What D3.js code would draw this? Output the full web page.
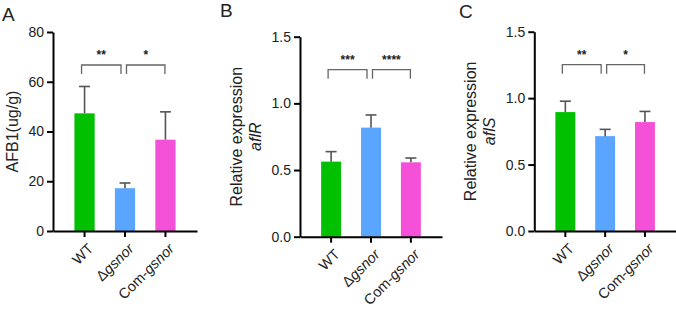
<!DOCTYPE html>
<html>
<head>
<meta charset="utf-8">
<script src="https://cdn.jsdelivr.net/npm/d3@7"></script>
<style>
  body { margin: 0; background: #fff; }
  svg { display: block; font-family: Arial, "Liberation Sans", sans-serif; }
</style>
</head>
<body>
<div id="chart"></div>
<script>
const width = 676;
const height = 309;

// data
const groups = ["WT", "Δgsnor", "Com-gsnor"];
const colors = ["#00c000", "#59a5ff", "#f550d8"];

const afb1Mean = [47.3, 17.2, 36.7];
const afb1Err = [10.8, 2.1, 11.2];
const afb1Ticks = [0, 20, 40, 60, 80];

const aflRMean = [0.563, 0.818, 0.558];
const aflRErr = [0.075, 0.095, 0.032];

const aflSMean = [0.895, 0.714, 0.82];
const aflSErr = [0.082, 0.051, 0.08];

const exprTicks = [0, 0.5, 1.0, 1.5];

const starsA = ["**", "*"];
const starsB = ["***", "****"];
const starsC = ["**", "*"];

const svg = d3.select("#chart")
    .append("svg")
    .attr("width", width)
    .attr("height", height);

const panels = [
    { letter: "A", lx: 2, ly: 21, left: 53, right: 197, bottom: 231, top: 32,
      max: 80, ticks: afb1Ticks, fmt: d3.format("d"),
      mean: afb1Mean, err: afb1Err, stars: starsA,
      label: [{ x: 12, text: "AFB1(ug/g)", italic: false }] },
    { letter: "B", lx: 220, ly: 17, left: 300, right: 442, bottom: 236.7, top: 36.7,
      max: 1.5, ticks: exprTicks, fmt: d3.format(".1f"),
      mean: aflRMean, err: aflRErr, stars: starsB,
      label: [{ x: 236, text: "Relative expression", italic: false },
              { x: 255, text: "aflR", italic: true }] },
    { letter: "C", lx: 459, ly: 18, left: 534.3, right: 676, bottom: 231, top: 31.7,
      max: 1.5, ticks: exprTicks, fmt: d3.format(".1f"),
      mean: aflSMean, err: aflSErr, stars: starsC,
      label: [{ x: 470, text: "Relative expression", italic: false },
              { x: 489, text: "aflS", italic: true }] }
];

panels.forEach(drawPanel);

function drawPanel(p) {
    const g = svg.append("g");

    const x = d3.scaleBand()
        .domain(groups)
        .range([p.left, p.right])
        .paddingInner(0.5)
        .paddingOuter(0.53);

    const y = d3.scaleLinear()
        .domain([0, p.max])
        .range([p.bottom, p.top]);

    const rows = groups.map((name, i) => ({ name, mean: p.mean[i], err: p.err[i], color: colors[i] }));

    // bars
    g.selectAll("rect.bar")
        .data(rows)
        .join("rect")
        .attr("class", "bar")
        .attr("x", d => x(d.name))
        .attr("width", x.bandwidth())
        .attr("y", d => y(d.mean))
        .attr("height", d => y(0) - y(d.mean))
        .attr("fill", d => d.color);

    // error bars (upper only)
    const cx = d => x(d.name) + x.bandwidth() / 2;
    g.selectAll("line.err")
        .data(rows)
        .join("line")
        .attr("x1", cx).attr("x2", cx)
        .attr("y1", d => y(d.mean))
        .attr("y2", d => y(d.mean + d.err))
        .attr("stroke", "#555")
        .attr("stroke-width", 1.6);
    g.selectAll("line.cap")
        .data(rows)
        .join("line")
        .attr("x1", d => cx(d) - 5.5).attr("x2", d => cx(d) + 5.5)
        .attr("y1", d => y(d.mean + d.err))
        .attr("y2", d => y(d.mean + d.err))
        .attr("stroke", "#555")
        .attr("stroke-width", 1.6);

    // axes
    const yAxis = g.append("g")
        .attr("transform", `translate(${p.left},0)`)
        .call(d3.axisLeft(y).tickValues(p.ticks).tickFormat(p.fmt)
            .tickSize(6).tickSizeOuter(0).tickPadding(3));

    const xAxis = g.append("g")
        .attr("transform", `translate(0,${p.bottom})`)
        .call(d3.axisBottom(x).tickSize(6).tickSizeOuter(0));

    [yAxis, xAxis].forEach(a => {
        a.select(".domain").attr("stroke", "#000").attr("stroke-width", 2);
        a.selectAll(".tick line").attr("stroke", "#000").attr("stroke-width", 2);
        a.selectAll("text").attr("fill", "#222").style("font-size", "14px")
            .style("font-family", "Arial, 'Liberation Sans', sans-serif");
    });

    xAxis.selectAll(".tick text")
        .style("font-size", "14.5px")
        .attr("text-anchor", "end")
        .attr("transform", "translate(6,15) rotate(-45)")
        .attr("y", 0).attr("dy", "0.35em")
        .each(function (d) {
            const t = d3.select(this).text("");
            const m = d.match(/^(.*?)(gsnor)$/);
            if (m) {
                t.append("tspan").text(m[1]);
                t.append("tspan").attr("font-style", "italic").text(m[2]);
            } else {
                t.text(d);
            }
        });

    // significance brackets
    const pairs = [[0, 1, -3, -4], [1, 2, 1.5, -0.5]];
    const bTop = p.top + 33, bLeg = 9;
    pairs.forEach(([a, b, da, db], k) => {
        const x1 = cx(rows[a]) + da, x2 = cx(rows[b]) + db;
        g.append("path")
            .attr("d", `M${x1},${bTop + bLeg}V${bTop}H${x2}V${bTop + bLeg}`)
            .attr("fill", "none")
            .attr("stroke", "#666")
            .attr("stroke-width", 1.3);
        g.append("text")
            .attr("x", (x1 + x2) / 2)
            .attr("y", bTop - 6)
            .attr("text-anchor", "middle")
            .attr("font-size", "12px")
            .attr("font-weight", "bold")
            .attr("fill", "#222")
            .text(p.stars[k]);
    });

    // y label
    const cy = (p.top + p.bottom) / 2;
    p.label.forEach(l => {
        g.append("text")
            .attr("transform", `translate(${l.x},${cy}) rotate(-90)`)
            .attr("text-anchor", "middle")
            .attr("dy", "0.35em")
            .attr("font-size", "16px")
            .attr("fill", "#222")
            .attr("font-style", l.italic ? "italic" : "normal")
            .text(l.text);
    });

    // panel letter
    g.append("text")
        .attr("x", p.lx)
        .attr("y", p.ly)
        .attr("font-size", "19px")
        .attr("fill", "#222")
        .text(p.letter);
}
</script>
</body>
</html>
